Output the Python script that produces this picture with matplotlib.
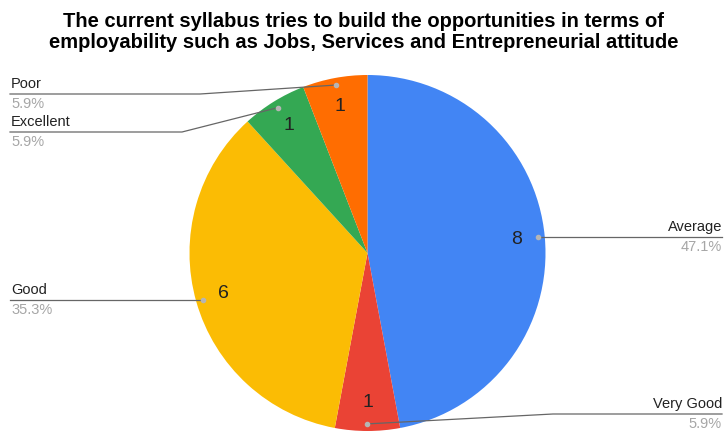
import numpy as np
import matplotlib.pyplot as plt

plt.rcParams['font.family'] = ['Liberation Sans', 'DejaVu Sans']

title = ('The current syllabus tries to build the opportunities in terms of\n'
         'employability such as Jobs, Services and Entrepreneurial attitude')
categories = ['Average', 'Very Good', 'Good', 'Excellent', 'Poor']
counts = [8, 1, 6, 1, 1]
colors = ['#4285F4', '#EA4335', '#FBBC04', '#34A853', '#FF6D01']

# layout in pixels (y measured from bottom)
W, H = 725, 432
cx, cy, R = 367.5, 432 - 253, 178
# label side and y position of leader line (None = level with the dot)
sides = ['right', 'right', 'left', 'left', 'left']
line_y = [None, 432 - 414, None, 432 - 132, 432 - 94]
elbow_x = [None, 553, None, 182, 200]

fig = plt.figure(figsize=(W / 100, H / 100), dpi=100)
ax = fig.add_axes([0, 0, 1, 1])

total = sum(counts)
wedges, _, nums = ax.pie(counts, colors=colors, startangle=90,
                         counterclock=False, center=(cx, cy), radius=R,
                         autopct=lambda p: f'{round(p * total / 100)}',
                         pctdistance=0.84,
                         textprops=dict(fontsize=14, color='#222222'))
ax.set_xlim(0, W)
ax.set_ylim(0, H)
ax.set_aspect('auto')
ax.axis('off')

for w, name, n, side, ly, ex in zip(wedges, categories, counts, sides,
                                    line_y, elbow_x):
    ang = np.deg2rad((w.theta1 + w.theta2) / 2)
    dx = cx + 0.96 * R * np.cos(ang)
    dy = cy + 0.96 * R * np.sin(ang)
    ax.plot(dx, dy, 'o', ms=3, color='#b5b5b5', zorder=5)
    if ly is None:
        ly = dy
        pts_x, pts_y = [dx], [dy]
    else:
        pts_x, pts_y = [dx, ex], [dy, ly]
    end = W - 3 if side == 'right' else 10
    ax.plot(pts_x + [end], pts_y + [ly], color='#666666', lw=0.9, zorder=4)
    ha = 'right' if side == 'right' else 'left'
    tx = W - 3 if side == 'right' else 11
    pct = 100 * n / total
    ax.text(tx, ly + 3, name, ha=ha, va='bottom', fontsize=10.5,
            color='#222222')
    ax.text(tx, ly - 3, f'{pct:.1f}%', ha=ha, va='top', fontsize=10.5,
            color='#a6a6a6')

fig.text(0.502, 1 - 32 / H, title, ha='center', va='center',
         fontsize=14.5, fontweight='bold', color='#000000', linespacing=1.08)

fig.savefig('out.png', dpi=100)
